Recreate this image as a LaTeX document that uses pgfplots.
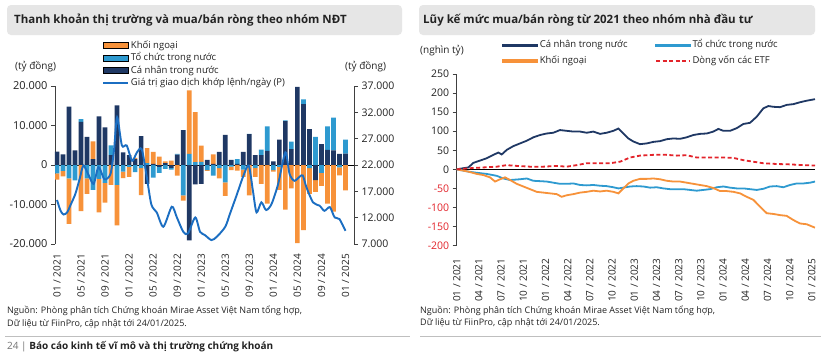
\documentclass[border=0pt]{standalone}
\usepackage{pgfplots}
\pgfplotsset{compat=1.18}
\usepackage{pgfplotstable}
\usepackage{fontspec}
\setmainfont{Open Sans}
\definecolor{cnavy}{HTML}{1F3864}
\definecolor{cblue}{HTML}{2E9AD0}
\definecolor{corange}{HTML}{F7923A}
\definecolor{cline}{HTML}{1B6EC2}
\definecolor{cred}{HTML}{E3242B}
\definecolor{tgray}{HTML}{E6E6E6}
\definecolor{txt}{HTML}{222222}

\pgfplotstableread{
m N B O
0 3400 -2100 -1600
1 2700 -1500 -1400
2 14800 -3400 -11500
3 3700 -3900 0
4 10900 700 -11700
5 7100 -3400 -3900
6 1500 -6300 4500
7 12300 -3500 -8500
8 9500 -4500 -5000
9 2500 2500 -5000
10 15100 -5000 -10300
11 3200 -1700 -1600
12 2500 -500 -2500
13 1500 -1800 300
14 7300 -800 -6800
15 -4800 500 3800
16 300 -3200 3000
17 -500 -1500 2100
18 500 -1000 400
19 -700 -500 1100
20 2600 200 -2700
21 8800 -7700 -1300
22 -19100 2800 16100
23 -4900 700 12700
24 -4800 800 4100
25 1300 -1300 -200
26 300 -2700 2400
27 3300 -800 -2600
28 7600 -4400 -3400
29 1300 -400 -900
30 300 1200 -1400
31 3300 -1200 -1800
32 7800 100 -7700
33 2500 -700 -2300
34 2500 1400 -4800
35 3600 6200 -9800
36 900 -1300 -400
37 6400 -500 -5800
38 11100 200 -11300
39 4000 1900 -5900
40 19800 0 -19800
41 15400 1200 -16500
42 9100 -800 -6500
43 -3800 7100 -3000
44 5300 -2000 -3300
45 3800 6000 -9800
46 3700 8300 -11800
47 2800 -600 -2000
48 2900 3500 -6400
}\bardata

\pgfplotstableread{
m v
0 15350
0.6 13300
1.1 12600
1.7 13000
2.2 14270
3.05 16500
3.8 19500
4.4 21900
5.3 20000
6.1 18400
6.9 21600
7.9 19300
8.9 20300
9.5 25000
10 31070
10.8 25700
11.6 25700
12.5 22800
13.3 24400
14.1 25000
14.9 20000
15.7 14500
16.6 13000
17.7 10280
19.1 14080
19.9 12180
21 9330
21.8 9000
23 12050
23.8 9330
24.6 8700
25.7 7750
26.6 8380
28 10280
28.8 12800
29.9 16300
31 19900
31.9 21900
32.6 17100
33.2 13000
34 14900
34.8 13450
35.7 14600
36.8 18400
38 24400
38.7 20300
39.5 19000
40.4 19800
40.9 20000
41.5 17800
42.6 14900
43.7 14270
44.5 13300
45.4 14000
46.2 12050
47 11740
48 9500
}\linedata

\pgfplotstableread{
m v
0 0
0.9 3
1.58 5
2.25 17
3.15 23
4.05 29
4.95 38
5.63 44
6.08 39
6.76 51
7.66 61
8.56 68
9.46 75
10.36 84
11.26 90
12.16 94
13.06 96
13.96 103
14.86 101
15.77 99
16.67 99
17.57 96
18.47 99
19.37 93
20.27 96
21.17 101
21.85 107
22.52 94
23.2 81
23.87 73
24.77 66
25.68 68
26.58 72
27.48 74
28.38 79
29.28 81
30.18 80
31.08 84
31.98 90
32.88 93
33.78 94
34.68 99
35.36 106
36.04 101
36.94 101
37.84 108
38.74 119
39.64 122
40.54 138
41.44 160
42.12 166
42.79 164
43.69 163
44.59 169
45.5 171
46.4 176
47.3 180
48.42 184
}\navyR

\pgfplotstableread{
m v
0 0
1.58 -6
2.7 -9
4.05 -12
5.41 -17
6.31 -24
7.21 -28
8.56 -26
9.46 -24
10.36 -30
11.26 -31
12.16 -32
13.06 -35
13.96 -38
14.86 -38
15.77 -37
16.67 -41
17.57 -42
18.47 -41
19.37 -43
20.27 -44
21.17 -47
21.85 -50
22.52 -48
23.42 -45
24.32 -44
25.23 -45
26.13 -48
27.03 -47
27.93 -50
28.83 -52
29.73 -52
30.63 -52
31.53 -54
32.43 -56
33.33 -54
34.23 -52
35.14 -47
36.04 -45
36.94 -48
37.84 -50
38.74 -50
39.64 -52
40.54 -54
41.44 -51
42.34 -45
43.24 -44
44.14 -47
45.05 -41
45.95 -37
46.85 -37
47.75 -35
48.42 -32
}\blueR

\pgfplotstableread{
m v
0 0
1.58 -6
2.7 -12
3.6 -15
4.5 -21
5.18 -32
5.86 -26
6.53 -21
7.21 -28
8.11 -38
9.01 -45
9.91 -52
10.81 -59
11.71 -61
12.61 -63
13.51 -65
14.19 -72
14.86 -68
15.77 -65
16.67 -61
17.57 -59
18.47 -56
19.37 -58
20.27 -56
21.17 -59
21.85 -63
22.52 -50
23.2 -37
23.87 -30
24.77 -25
25.68 -25
26.58 -24
27.48 -26
28.38 -30
29.28 -32
30.18 -32
31.08 -35
31.98 -38
32.88 -41
33.78 -44
34.68 -49
35.59 -57
36.49 -57
37.39 -59
38.29 -63
39.19 -72
40.09 -80
41.0 -98
41.89 -115
42.79 -117
43.69 -120
44.59 -122
45.5 -133
46.4 -142
47.3 -144
48.42 -153
}\orangeR

\pgfplotstableread{
m v
0 0
1.8 3
3.6 5
5.41 7
6.76 11
8.11 9
9.91 7
11.71 7
13.51 9
14.86 7
16.22 11
17.57 16
18.92 16
20.72 16
22.07 20
23.42 31
24.77 36
26.58 38
28.38 38
29.73 36
31.08 37
32.43 31
34.23 31
36.04 31
37.39 30
38.74 24
40.09 20
41.44 16
43.24 14
45.05 13
46.85 11
48.42 10
}\etfR

\pgfplotsset{
  leftgeom/.style={scale only axis, width=299pt, height=158pt, at={(55pt,-86pt)}, anchor=north west,
    xmin=-0.333, xmax=49.42, scaled y ticks=false},
  area legend/.style={legend image code/.code={\fill[##1] (0pt,-3pt) rectangle (25pt,3pt);}},
  linelegA/.style={legend image code/.code={\draw[##1, line width=1.9pt] (0pt,0pt) -- (25pt,0pt);}},
  linelegB/.style={legend image code/.code={\draw[##1, line width=1.8pt] (0pt,0pt) -- (34pt,0pt);}},
  linelegC/.style={legend image code/.code={\fill[##1] (0pt,-1pt) rectangle (34pt,1pt);}},
}

\begin{document}
\begin{tikzpicture}[x=1pt,y=1pt]
\fill[white] (0,0) rectangle (821,-357);

% title boxes
\fill[tgray, rounded corners=4pt] (7,-5) rectangle (402,-35);
\node[anchor=west, font=\bfseries\fontsize{11.5}{13}\selectfont, text=txt, inner sep=0pt] at (14,-20) {Thanh khoản thị trường và mua/bán ròng theo nhóm NĐT};
\fill[tgray, rounded corners=4pt] (419,-5) rectangle (815,-35);
\node[anchor=west, font=\bfseries\fontsize{11.5}{13}\selectfont, text=txt, inner sep=0pt] at (423,-20) {Lũy kế mức mua/bán ròng từ 2021 theo nhóm nhà đầu tư};

% units
\node[anchor=west, font=\fontsize{10}{12}\selectfont, text=txt, inner sep=0pt] at (15,-67) {(tỷ đồng)};
\node[anchor=west, font=\fontsize{10}{12}\selectfont, text=txt, inner sep=0pt] at (345,-67) {(tỷ đồng)};
\node[anchor=west, font=\fontsize{10}{12}\selectfont, text=txt, inner sep=0pt] at (420,-51) {(nghìn tỷ)};

% ---------- left: positive bars + left axis
\begin{axis}[leftgeom, ybar stacked, bar width=4.7pt,
  ymin=-20000, ymax=20000,
  axis y line*=left, axis x line*=bottom,
  axis line style={-}, x axis line style={draw=none},
  y axis line style={black!75, line width=0.7pt},
  xtick={0,4,...,48},
  xticklabels={01 / 2021, 05 / 2021, 09 / 2021, 01 / 2022, 05 / 2022, 09 / 2022, 01 / 2023, 05 / 2023, 09 / 2023, 01 / 2024, 05 / 2024, 09 / 2024, 01 / 2025},
  xticklabel style={rotate=90, anchor=east, font=\fontsize{10}{12}\selectfont, text=txt, inner sep=0pt, xshift=-6pt},
  xtick style={draw=none},
  ytick={-20000,-10000,0,10000,20000},
  yticklabels={-20.000,-10.000,0,10.000,20.000},
  yticklabel style={font=\fontsize{11}{12}\selectfont, text=txt},
  tick align=outside, major tick length=4pt,
  ytick style={black!75, line width=0.7pt},
]
\addplot[fill=cnavy, draw=none] table[x=m, y expr={max(\thisrow{N},0)}] {\bardata};
\addplot[fill=cblue, draw=none] table[x=m, y expr={max(\thisrow{B},0)}] {\bardata};
\addplot[fill=corange, draw=none] table[x=m, y expr={max(\thisrow{O},0)}] {\bardata};
\end{axis}

% ---------- left: negative bars
\begin{axis}[leftgeom, ybar stacked, bar width=4.7pt, ymin=-20000, ymax=20000, hide axis]
\addplot[fill=cnavy, draw=none] table[x=m, y expr={min(\thisrow{N},0)}] {\bardata};
\addplot[fill=cblue, draw=none] table[x=m, y expr={min(\thisrow{B},0)}] {\bardata};
\addplot[fill=corange, draw=none] table[x=m, y expr={min(\thisrow{O},0)}] {\bardata};
\draw[black, line width=1pt] (axis cs:-0.333,0) -- (axis cs:49.42,0);
\end{axis}

% ---------- left: line, right axis, legend
\begin{axis}[leftgeom, ymin=7000, ymax=37000,
  axis y line*=right, axis x line=none, axis line style={-},
  y axis line style={black!75, line width=0.7pt},
  ytick={7000,12000,...,37000},
  yticklabels={7.000,12.000,17.000,22.000,27.000,32.000,37.000},
  yticklabel style={font=\fontsize{10.5}{12}\selectfont, text=txt},
  tick align=outside, major tick length=4pt,
  ytick style={black!75, line width=0.7pt},
  legend cell align=left,
  legend style={at={(axis description cs:0.158,1.295)}, anchor=north west, draw=none, fill=none,
    font=\fontsize{9.5}{11}\selectfont, inner sep=0pt, row sep=0.3pt,
    nodes={inner sep=1.6pt, text height=7pt, text depth=2pt, text=txt}},
]
\addlegendimage{area legend, fill=corange}
\addlegendentry{Khối ngoại}
\addlegendimage{area legend, fill=cblue}
\addlegendentry{Tổ chức trong nước}
\addlegendimage{area legend, fill=cnavy}
\addlegendentry{Cá nhân trong nước}
\addplot[cline, line width=1.9pt, smooth, tension=0.45, linelegA] table[x=m, y=v] {\linedata};
\addlegendentry{Giá trị giao dịch khớp lệnh/ngày (P)}
\end{axis}

% ---------- right chart
\begin{axis}[scale only axis, width=358.3pt, height=171.6pt, at={(456.7pt,-74pt)}, anchor=north west,
  xmin=0, xmax=48.42, ymin=-200, ymax=250, scaled y ticks=false,
  axis y line*=left, axis x line*=bottom,
  axis line style={-}, x axis line style={draw=none},
  y axis line style={black!75, line width=0.7pt},
  xtick={0,3,...,48},
  xticklabels={01 / 2021, 04 / 2021, 07 / 2021, 10 / 2021, 01 / 2022, 04 / 2022, 07 / 2022, 10 / 2022, 01 / 2023, 04 / 2023, 07 / 2023, 10 / 2023, 01 / 2024, 04 / 2024, 07 / 2024, 10 / 2024, 01 / 2025},
  xticklabel style={rotate=90, anchor=east, font=\fontsize{10}{12}\selectfont, text=txt, inner sep=0pt, xshift=-9pt},
  xtick style={draw=none},
  ytick={0,50,...,250},
  yticklabels={0,50,100,150,200,250},
  extra y ticks={-200,-150,-100,-50},
  extra y tick labels={-200,-150,-100,-50},
  extra y tick style={yticklabel style={text=cred}, ytick style={black!75, line width=0.7pt}},
  yticklabel style={font=\fontsize{10.5}{12}\selectfont, text=txt},
  tick align=outside, major tick length=4pt,
  ytick style={black!75, line width=0.7pt},
  legend columns=2, legend cell align=left,
  legend style={at={(axis description cs:0.127,1.203)}, anchor=north west, draw=none, fill=none,
    font=\fontsize{9.5}{11}\selectfont, inner sep=0pt, row sep=3.6pt,
    nodes={inner sep=1.6pt, text height=7pt, text depth=2pt, text=txt},
    /tikz/every even column/.append style={column sep=26pt}},
]
\draw[black, line width=1pt] (axis cs:0,0) -- (axis cs:48.42,0);
\addplot[cnavy, line width=1.8pt, linelegC] table[x=m, y=v] {\navyR};
\addlegendentry{Cá nhân trong nước}
\addplot[cblue, line width=1.8pt, linelegC] table[x=m, y=v] {\blueR};
\addlegendentry{Tổ chức trong nước}
\addplot[corange, line width=1.8pt, linelegC] table[x=m, y=v] {\orangeR};
\addlegendentry{Khối ngoại}
\addplot[cred, line width=1.8pt, dash pattern=on 4pt off 2.5pt, linelegB] table[x=m, y=v] {\etfR};
\addlegendentry{Dòng vốn các ETF}
\end{axis}

% sources
\node[anchor=west, font=\fontsize{9}{11}\selectfont, text=txt, inner sep=0pt] at (7,-311) {Nguồn: Phòng phân tích Chứng khoán Mirae Asset Việt Nam tổng hợp,};
\node[anchor=west, font=\fontsize{9}{11}\selectfont, text=txt, inner sep=0pt] at (7,-324) {Dữ liệu từ FiinPro, cập nhật tới 24/01/2025.};
\node[anchor=west, font=\fontsize{9}{11}\selectfont, text=txt, inner sep=0pt] at (420,-311) {Nguồn: Phòng phân tích Chứng khoán Mirae Asset Việt Nam tổng hợp,};
\node[anchor=west, font=\fontsize{9}{11}\selectfont, text=txt, inner sep=0pt] at (420,-323) {Dữ liệu từ FiinPro, cập nhật tới 24/01/2025.};
\draw[black!25, line width=1pt] (5,-336) -- (410,-336);
\draw[black!25, line width=1pt] (420,-336) -- (821,-336);
\node[anchor=west, font=\fontsize{10}{12}\selectfont, inner sep=0pt] at (7,-347) {\textcolor{black!55}{24 |} \textbf{\textcolor{txt}{Báo cáo kinh tế vĩ mô và thị trường chứng khoán}}};
\pgfresetboundingbox
\useasboundingbox (0,0) rectangle (821,-357);
\end{tikzpicture}
\end{document}
